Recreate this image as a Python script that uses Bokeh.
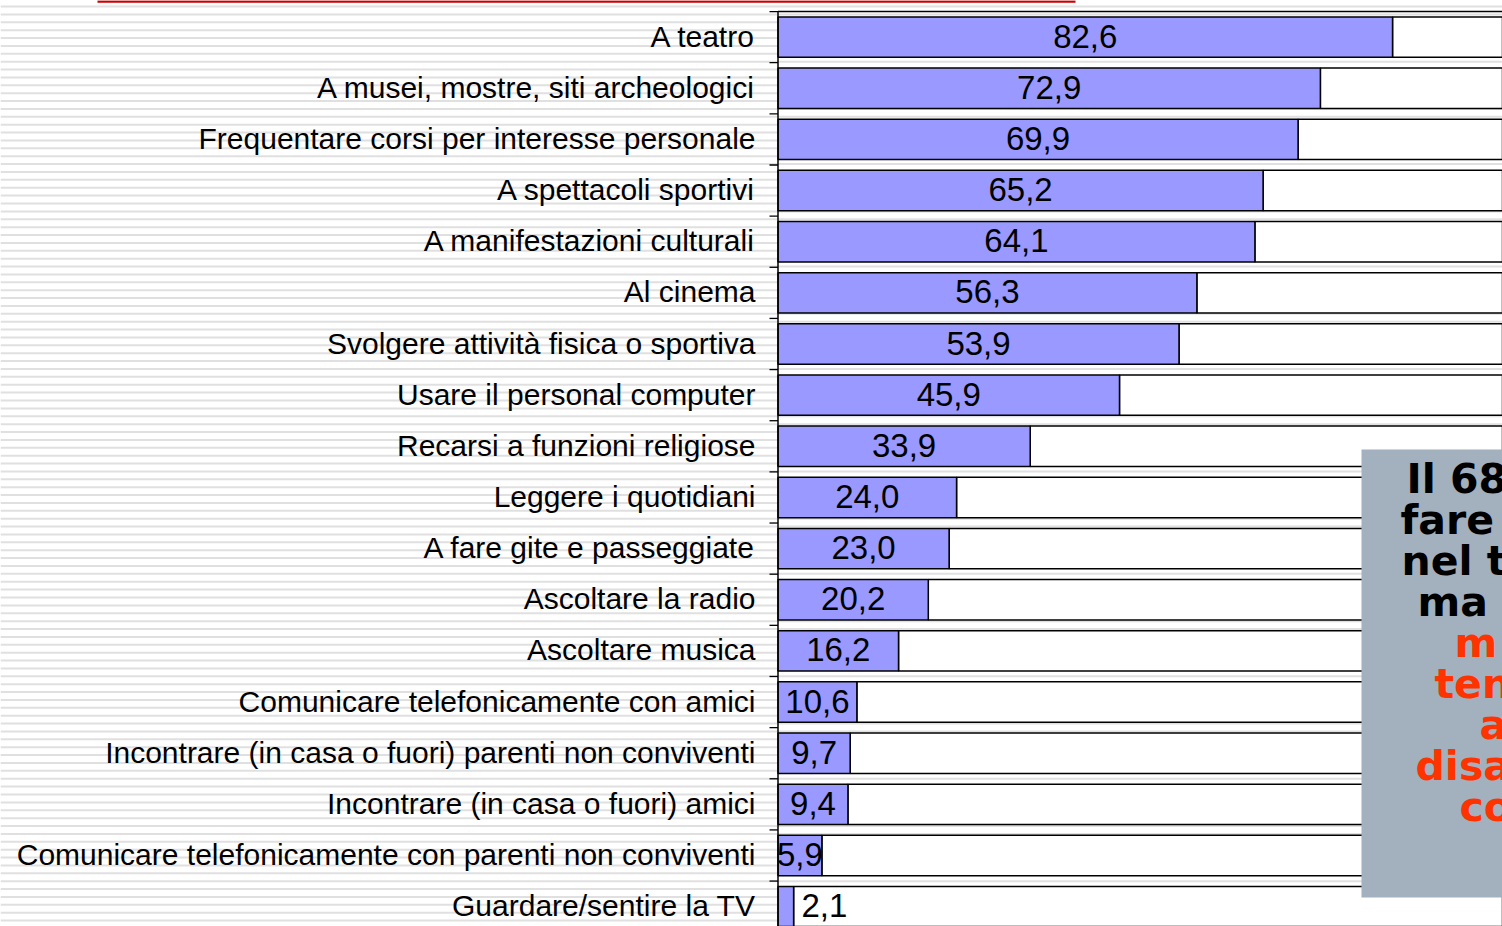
from bokeh.plotting import figure
from bokeh.models import Range1d
from bokeh.core.properties import value
from bokeh.embed import file_html
from bokeh.resources import INLINE
import numpy as np

# ---------------- data ----------------
categories = [
    "A teatro",
    "A musei, mostre, siti archeologici",
    "Frequentare corsi per interesse personale",
    "A spettacoli sportivi",
    "A manifestazioni culturali",
    "Al cinema",
    "Svolgere attività fisica o sportiva",
    "Usare il personal computer",
    "Recarsi a funzioni religiose",
    "Leggere i quotidiani",
    "A fare gite e passeggiate",
    "Ascoltare la radio",
    "Ascoltare musica",
    "Comunicare telefonicamente con amici",
    "Incontrare (in casa o fuori) parenti non conviventi",
    "Incontrare (in casa o fuori) amici",
    "Comunicare telefonicamente con parenti non conviventi",
    "Guardare/sentire la TV",
]
values = [82.6, 72.9, 69.9, 65.2, 64.1, 56.3, 53.9, 45.9, 33.9,
          24.0, 23.0, 20.2, 16.2, 10.6, 9.7, 9.4, 5.9, 2.1]
total = 100.0

# visible fragments of the (cropped) note box text
note_black = ["Il 68", "fare", "nel t", "ma"]
note_red = ["m", "ten", "a", "disa", "co"]

# ---------------- layout helpers ----------------
W, H = 1502, 926
X0_PX, SX = 777.5, 7.44      # px of value 0, px per unit
Y0_PX, SY = 36.6, 51.15      # px of first row centre, px per row


def dx(px):
    return (px - X0_PX) / SX


def dy(py):
    return (py - Y0_PX) / SY


rows = list(range(len(categories)))
value_labels = [f"{v:.1f}".replace(".", ",") for v in values]

p = figure(width=W, height=H, output_backend="svg", toolbar_location=None,
           x_range=Range1d(dx(0), dx(W)), y_range=Range1d(dy(H), dy(0)),
           x_axis_location=None, y_axis_location=None, min_border=0,
           background_fill_color="white", border_fill_color="white")
p.outline_line_color = None
p.grid.visible = False

# background stripes (slide pattern)
stripe_py = np.arange(6.0, H + 8, 7.88)
stripe_y = [dy(v) for v in stripe_py]
p.segment(x0=dx(0), x1=dx(W + 10), y0=stripe_y, y1=stripe_y,
          line_color="#e0e0e0", line_width=2)

# red title rule
p.segment(x0=[dx(97)], x1=[dx(1075)], y0=[dy(1)], y1=[dy(1)],
          line_color="#cc0000", line_width=2.5)

# bars
p.hbar(y=rows, left=values, right=total, height=0.79,
       fill_color="white", line_color="black", line_width=1.5)
p.hbar(y=rows, left=0, right=values, height=0.79,
       fill_color="#9999ff", line_color="black", line_width=1.5)

# axis line, top frame line, ticks at band boundaries
bounds = [r - 0.5 for r in rows] + [len(rows) - 0.5]
p.segment(x0=[0], x1=[0], y0=[-0.5], y1=[len(rows) - 0.5],
          line_color="black", line_width=1.5)
p.segment(x0=[0], x1=[total], y0=[-0.5], y1=[-0.5],
          line_color="black", line_width=1.5)
p.segment(x0=dx(769), x1=0, y0=bounds, y1=bounds,
          line_color="black", line_width=1.3)

# category labels
p.text(x=dx(755), y=rows, text=categories, text_align="right",
       text_baseline="middle", text_font=value("Liberation Sans"),
       text_font_size="30px", text_color="black", y_offset=-1)

# value labels
big = [i for i, v in enumerate(values) if v >= 3]
small = [i for i, v in enumerate(values) if v < 3]
p.text(x=[values[i] / 2 for i in big], y=[rows[i] for i in big],
       text=[value_labels[i] for i in big], text_align="center",
       text_baseline="middle", text_font=value("Liberation Sans"),
       text_font_size="33px", text_color="black", y_offset=-1)
p.text(x=[values[i] + 1.06 for i in small], y=[rows[i] for i in small],
       text=[value_labels[i] for i in small], text_align="left",
       text_baseline="middle", text_font=value("Liberation Sans"),
       text_font_size="33px", text_color="black", y_offset=-1)

# grey note box
p.quad(left=[dx(1361)], right=[dx(W + 20)], top=[dy(449)], bottom=[dy(897)],
       fill_color="#a3b0be", line_color=None)
note_x_px = [1406, 1400, 1401, 1417, 1454, 1434, 1479, 1415, 1459]
note_lines = note_black + note_red
note_colors = ["black"] * len(note_black) + ["#ff3300"] * len(note_red)
p.text(x=[dx(v) for v in note_x_px],
       y=[dy(478 + 41 * k) for k in range(len(note_lines))],
       text=note_lines, text_color=note_colors, text_align="left",
       text_baseline="alphabetic", text_font=value("DejaVu Sans"),
       text_font_style="bold", text_font_size="41px")

open("out.html", "w").write(file_html(p, INLINE))
